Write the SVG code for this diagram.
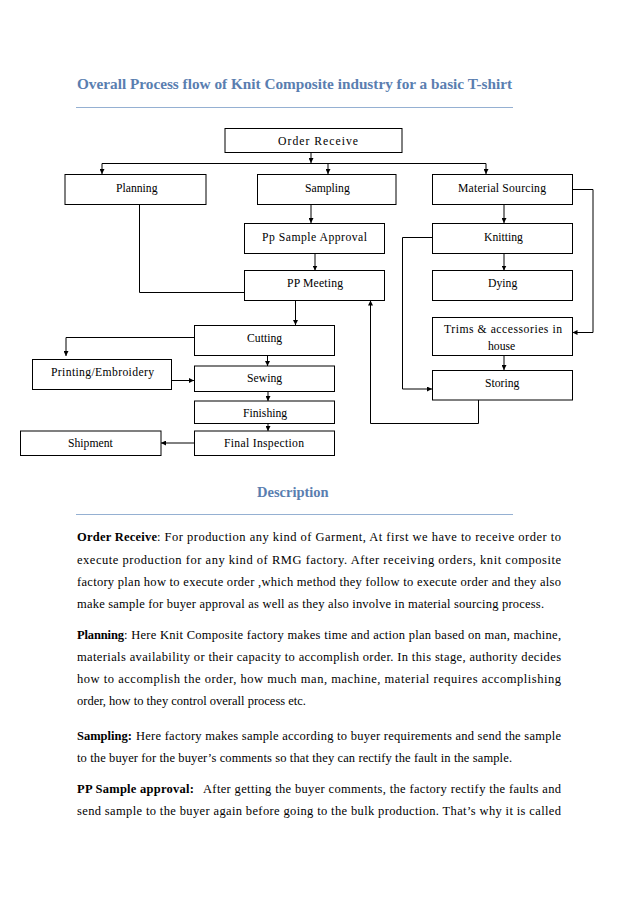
<svg xmlns="http://www.w3.org/2000/svg" width="638" height="902" viewBox="0 0 638 902">
<defs>
<marker id="ah" markerUnits="userSpaceOnUse" markerWidth="5" markerHeight="5" refX="5" refY="2.5" orient="auto">
<path d="M0,0 L5,2.5 L0,5 z" fill="#000"/>
</marker>
<style>
.bx{fill:#fff;stroke:#000;stroke-width:1}
.bt{font-family:"Liberation Serif","Times New Roman",serif;font-size:11.7px;fill:#000}
.cn{fill:none;stroke:#000;stroke-width:1}
.ar{marker-end:url(#ah)}
.hd{font-family:"Liberation Serif","Times New Roman",serif;font-weight:bold;fill:#5a7eb0}
.rl{stroke:#95b0d2;stroke-width:1.2}
.tx{font-family:"Liberation Serif","Times New Roman",serif;font-size:12.5px;fill:#000}
.b{font-weight:bold}
</style>
</defs>
<rect width="638" height="902" fill="#fff"/>

<text class="hd" x="77" y="89" font-size="14.5" textLength="435" lengthAdjust="spacingAndGlyphs">Overall Process flow of Knit Composite industry for a basic T-shirt</text>
<line class="rl" x1="76" y1="107.5" x2="513" y2="107.5"/>

<g id="connectors">
<line class="cn ar" x1="311" y1="152" x2="311" y2="163"/>
<line class="cn" x1="102" y1="163.5" x2="486" y2="163.5"/>
<line class="cn ar" x1="102" y1="163.5" x2="102" y2="174"/>
<line class="cn ar" x1="328" y1="163.5" x2="328" y2="174"/>
<line class="cn ar" x1="486" y1="163.5" x2="486" y2="174"/>
<line class="cn ar" x1="311" y1="204" x2="311" y2="223"/>
<line class="cn ar" x1="504" y1="204" x2="504" y2="223"/>
<line class="cn ar" x1="504" y1="253" x2="504" y2="270.5"/>
<line class="cn ar" x1="504" y1="355" x2="504" y2="370"/>
<polyline class="cn ar" points="572,189.5 593,189.5 593,332.5 572.5,332.5"/>
<polyline class="cn ar" points="432,237.5 402.5,237.5 402.5,389 432,389"/>
<line class="cn ar" x1="315" y1="253" x2="315" y2="270.5"/>
<polyline class="cn" points="139.5,204 139.5,292.5 244,292.5"/>
<line class="cn ar" x1="295.5" y1="300" x2="295.5" y2="325"/>
<polyline class="cn ar" points="478.5,400 478.5,423.5 370.5,423.5 370.5,300.5"/>
<polyline class="cn ar" points="194,337.5 66,337.5 66,356"/>
<line class="cn ar" x1="172" y1="380.5" x2="194" y2="380.5"/>
<line class="cn ar" x1="267.5" y1="355" x2="267.5" y2="366"/>
<line class="cn ar" x1="268" y1="392" x2="268" y2="401"/>
<line class="cn ar" x1="268" y1="423" x2="268" y2="431"/>
<line class="cn ar" x1="194" y1="443" x2="161" y2="443"/>
</g>

<g id="order-receive"><rect class="bx" x="225" y="128.5" width="177" height="24"/><text class="bt" x="278" y="144.5" textLength="80" lengthAdjust="spacing">Order Receive</text></g>
<g id="planning"><rect class="bx" x="65" y="174.5" width="141" height="30"/><text class="bt" x="116" y="192">Planning</text></g>
<g id="sampling"><rect class="bx" x="257.5" y="174.5" width="138.5" height="30"/><text class="bt" x="305" y="192">Sampling</text></g>
<g id="material-sourcing"><rect class="bx" x="432.5" y="174.5" width="140" height="30"/><text class="bt" x="458" y="192" textLength="88" lengthAdjust="spacing">Material Sourcing</text></g>
<g id="pp-sample-approval"><rect class="bx" x="244.5" y="223.5" width="140" height="30"/><text class="bt" x="262" y="241" textLength="105" lengthAdjust="spacing">Pp Sample Approval</text></g>
<g id="knitting"><rect class="bx" x="432.5" y="223.5" width="140" height="30"/><text class="bt" x="484" y="241">Knitting</text></g>
<g id="pp-meeting"><rect class="bx" x="244.5" y="270.5" width="140" height="30"/><text class="bt" x="287" y="287" textLength="56" lengthAdjust="spacing">PP Meeting</text></g>
<g id="dying"><rect class="bx" x="432.5" y="270.5" width="140" height="30"/><text class="bt" x="488" y="287">Dying</text></g>
<g id="trims"><rect class="bx" x="432.5" y="317.5" width="140" height="38"/><text class="bt" x="444" y="333" textLength="118" lengthAdjust="spacing">Trims &amp; accessories in</text><text class="bt" x="488" y="350">house</text></g>
<g id="storing"><rect class="bx" x="432.5" y="370.5" width="140" height="29.5"/><text class="bt" x="485" y="387">Storing</text></g>
<g id="cutting"><rect class="bx" x="194.5" y="325.5" width="140" height="30"/><text class="bt" x="247" y="342">Cutting</text></g>
<g id="printing"><rect class="bx" x="32.5" y="359.5" width="139" height="30"/><text class="bt" x="51" y="376" textLength="103" lengthAdjust="spacing">Printing/Embroidery</text></g>
<g id="sewing"><rect class="bx" x="194.5" y="366" width="140" height="25.5"/><text class="bt" x="247" y="382">Sewing</text></g>
<g id="finishing"><rect class="bx" x="194.5" y="401" width="140" height="22.5"/><text class="bt" x="243" y="416.5">Finishing</text></g>
<g id="final-inspection"><rect class="bx" x="194.5" y="431" width="140" height="24.5"/><text class="bt" x="224" y="446.5" textLength="80" lengthAdjust="spacing">Final Inspection</text></g>
<g id="shipment"><rect class="bx" x="20.5" y="431" width="140.5" height="24.5"/><text class="bt" x="68" y="446.5">Shipment</text></g>

<text class="hd" x="257" y="497" font-size="14.5">Description</text>
<line class="rl" x1="76" y1="514.5" x2="513" y2="514.5"/>

<g class="tx">
<text class="b" x="77" y="541" textLength="80" lengthAdjust="spacing">Order Receive</text>
<text x="157" y="541" textLength="404" lengthAdjust="spacing">: For production any kind of Garment, At first we have to receive order to</text>
<text x="77" y="564" textLength="484" lengthAdjust="spacing">execute production for any kind of RMG factory. After receiving orders, knit composite</text>
<text x="77" y="586" textLength="484" lengthAdjust="spacing">factory plan how to execute order ,which method they follow to execute order and they also</text>
<text x="77" y="608" textLength="467" lengthAdjust="spacing">make sample for buyer approval as well as they also involve in material sourcing process.</text>

<text class="b" x="77" y="639" textLength="47" lengthAdjust="spacing">Planning</text>
<text x="124" y="639" textLength="437" lengthAdjust="spacing">: Here Knit Composite factory makes time and action plan based on man, machine,</text>
<text x="77" y="661" textLength="484" lengthAdjust="spacing">materials availability or their capacity to accomplish order. In this stage, authority decides</text>
<text x="77" y="683" textLength="484" lengthAdjust="spacing">how to accomplish the order, how much man, machine, material requires accomplishing</text>
<text x="77" y="705">order, how to they control overall process etc.</text>

<text class="b" x="77" y="740">Sampling:</text>
<text x="136" y="740" textLength="425" lengthAdjust="spacing">Here factory makes sample according to buyer requirements and send  the sample</text>
<text x="77" y="762" textLength="435" lengthAdjust="spacing">to the buyer for the buyer’s comments so that they can rectify the fault in the sample.</text>

<text class="b" x="77" y="793" textLength="117" lengthAdjust="spacing">PP Sample approval:</text>
<text x="203" y="793" textLength="358" lengthAdjust="spacing">After getting the buyer comments, the factory rectify the faults and</text>
<text x="77" y="815" textLength="484" lengthAdjust="spacing">send sample to the buyer again before going to the bulk production. That’s why it is called</text>
</g>
</svg>
